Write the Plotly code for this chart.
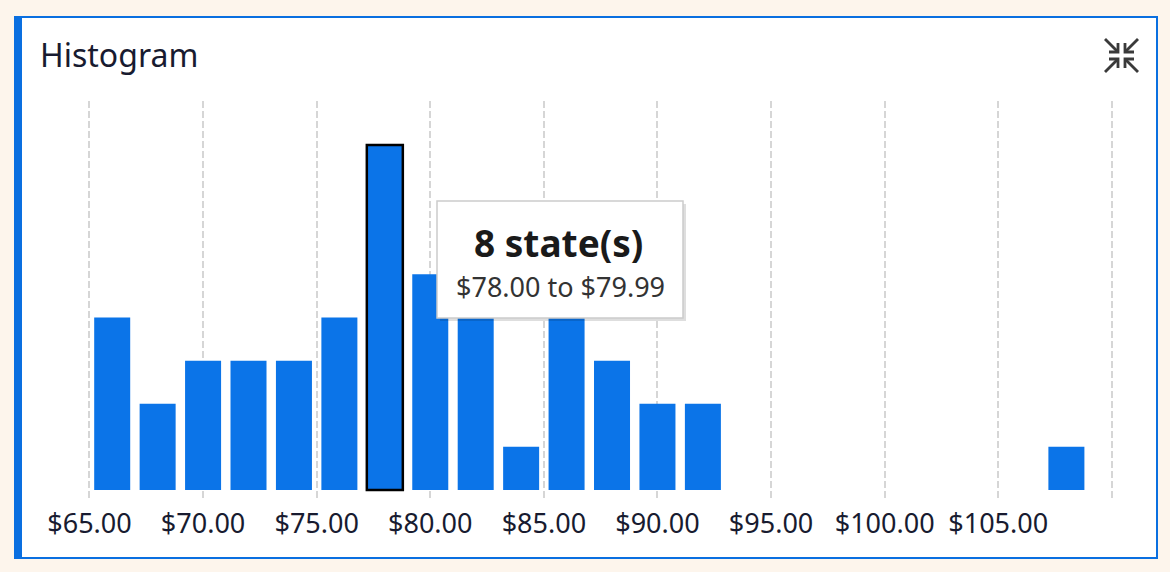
import plotly.graph_objects as go

# ---- data ----
bin_starts = [66, 68, 70, 72, 74, 76, 78, 80, 82, 84, 86, 88, 90, 92, 94, 96, 98, 100, 102, 104, 106, 108]
state_counts = [4, 2, 3, 3, 3, 4, 8, 5, 5, 1, 4, 3, 2, 2, 0, 0, 0, 0, 0, 0, 0, 1]
highlight_bin = 78
tick_values = [65, 70, 75, 80, 85, 90, 95, 100, 105, 110]
tick_labels = ["$65.00", "$70.00", "$75.00", "$80.00", "$85.00", "$90.00", "$95.00", "$100.00", "$105.00", ""]
tooltip_title = "8 state(s)"
tooltip_range = "$78.00 to $79.99"
chart_title = "Histogram"

W, H = 1170, 572
BLUE = "#0b74e8"
BORDER_BLUE = "#0a6fe0"
FONT = "Noto Sans"


def px(x):
    return x / W


def py(y):
    return 1 - y / H


line_w = [2.5 if b == highlight_bin else 0 for b in bin_starts]

fig = go.Figure()
fig.add_trace(go.Bar(
    x=bin_starts, y=state_counts,
    marker=dict(color=BLUE, line=dict(color="#000000", width=line_w)),
    hoverinfo="skip",
))

shapes = []
# card
shapes.append(dict(type="rect", xref="paper", yref="paper", x0=px(15), x1=px(1157), y0=py(558), y1=py(17),
                   fillcolor="#ffffff", line=dict(color=BORDER_BLUE, width=2), layer="below"))
shapes.append(dict(type="rect", xref="paper", yref="paper", x0=px(14), x1=px(22), y0=py(559), y1=py(16),
                   fillcolor=BORDER_BLUE, line=dict(width=0), layer="below"))

# collapse icon
cx, cy, g, L, hl = 1121.5, 55.5, 3.5, 13, 9
icon = []
for sx in (-1, 1):
    for sy in (-1, 1):
        kx, ky = cx + sx * g, cy + sy * g
        ox, oy = kx + sx * L, ky + sy * L
        icon.append(f"M{px(ox)},{py(oy)} L{px(kx)},{py(ky)}")
        icon.append(f"M{px(kx + sx * hl)},{py(ky)} L{px(kx)},{py(ky)} L{px(kx)},{py(ky + sy * hl)}")
for p in icon:
    shapes.append(dict(type="path", xref="paper", yref="paper", path=p,
                       line=dict(color="#3a3a3a", width=2.8), layer="above"))

# tooltip box
tx0, tx1, ty0, ty1 = 437, 683, 201, 318
shapes.append(dict(type="rect", xref="paper", yref="paper", x0=px(tx0 + 3), x1=px(tx1 + 3), y0=py(ty1 + 3), y1=py(ty0 + 3),
                   fillcolor="rgba(0,0,0,0.13)", line=dict(width=0), layer="above"))
shapes.append(dict(type="rect", xref="paper", yref="paper", x0=px(tx0), x1=px(tx1), y0=py(ty1), y1=py(ty0),
                   fillcolor="#ffffff", line=dict(color="#cccccc", width=1.5), layer="above"))

annotations = [
    dict(text=chart_title, xref="paper", yref="paper", x=px(38), y=py(55), xanchor="left", yanchor="middle",
         showarrow=False, font=dict(family=FONT, size=32, color="#181b30")),
    dict(text=f"<b>{tooltip_title}</b>", xref="paper", yref="paper", x=px(558), y=py(242), xanchor="center",
         yanchor="middle", showarrow=False, font=dict(family=FONT, size=37, color="#1a1a1a")),
    dict(text=tooltip_range, xref="paper", yref="paper", x=px(560), y=py(286), xanchor="center",
         yanchor="middle", showarrow=False, font=dict(family=FONT, size=27, color="#333333")),
]

fig.update_layout(
    width=W, height=H,
    margin=dict(l=0, r=0, t=0, b=0),
    paper_bgcolor="#fdf5ec",
    plot_bgcolor="rgba(0,0,0,0)",
    showlegend=False,
    bargap=0.2075,
    hovermode=False,
    shapes=shapes,
    annotations=annotations,
    xaxis=dict(
        domain=[px(22), px(1156)],
        range=[62.03, 111.944],
        tickmode="array", tickvals=tick_values, ticktext=tick_labels,
        showgrid=True, gridcolor="#d6d6d6", gridwidth=1.6, griddash="7px,3px",
        zeroline=False, showline=False, ticks="",
        tickfont=dict(family=FONT, size=27, color="#181b30"),
        ticklabelstandoff=6,
        fixedrange=True,
    ),
    yaxis=dict(
        domain=[py(499), py(101)],
        range=[-9 / 43.125, 389 / 43.125],
        showgrid=False, zeroline=False, showticklabels=False, showline=False, ticks="",
        fixedrange=True,
    ),
)

fig.write_html("out.html", config={"displayModeBar": False},
               post_script="document.body.style.margin='0';document.body.style.overflow='hidden';")
